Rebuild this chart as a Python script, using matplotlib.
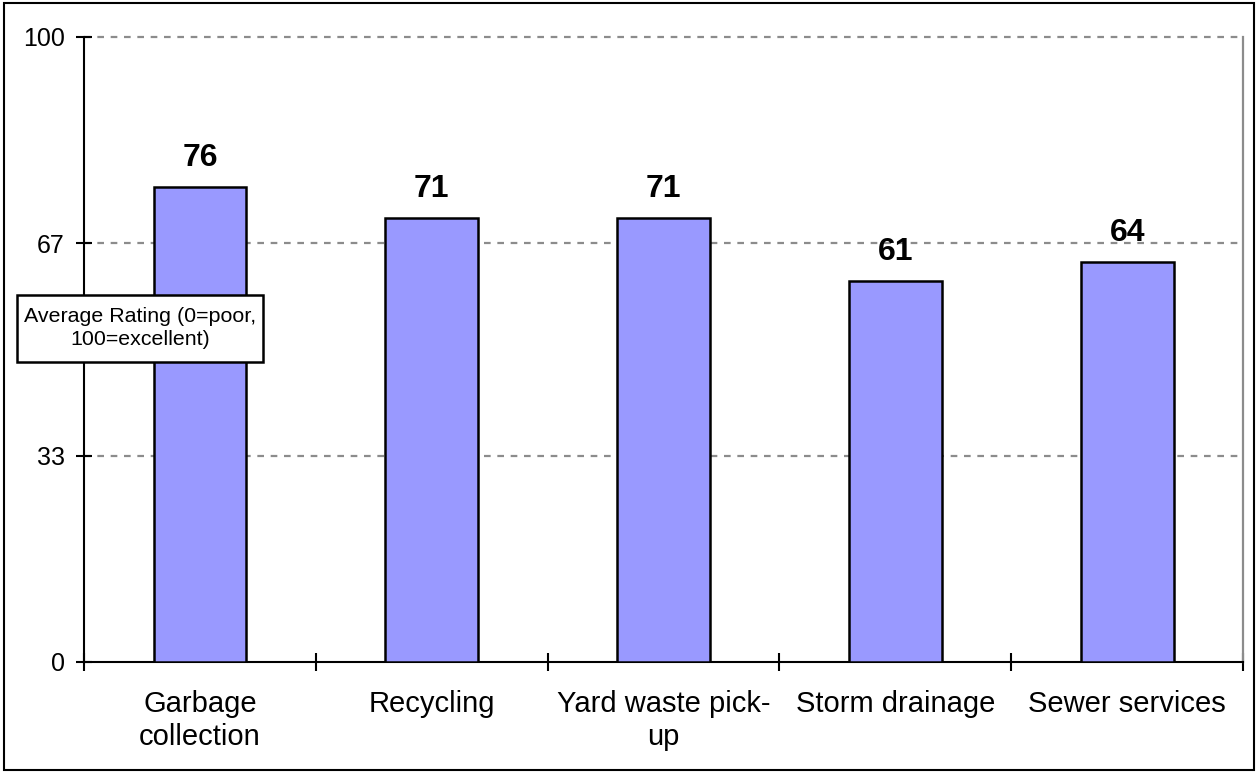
import numpy as np
import matplotlib
matplotlib.use("Agg")
import matplotlib.pyplot as plt
from matplotlib.patches import Rectangle

plt.rcParams['font.family'] = ['Liberation Sans', 'DejaVu Sans']

categories = ["Garbage\ncollection", "Recycling", "Yard waste pick-\nup",
              "Storm drainage", "Sewer services"]
ratings = [76, 71, 71, 61, 64]
yticks = [0, 33, 67, 100]

W, H = 1257, 772
fig = plt.figure(figsize=(W / 100, H / 100), dpi=100)
ax = fig.add_axes([0.0668, 0.1425, 0.9221, 0.8096])

x = np.arange(len(categories))
ax.bar(x, ratings, width=0.4, color='#9999FF', edgecolor='black',
       linewidth=1.8, zorder=3)

for xi, v in zip(x, ratings):
    ax.annotate(str(v), (xi, v), xytext=(0, 10), textcoords='offset points',
                ha='center', va='bottom', fontsize=23, fontweight='bold')

ax.set_xlim(-0.5, len(categories) - 0.5)
ax.set_ylim(0, 100)
ax.set_yticks(yticks)
ax.set_yticklabels([str(t) for t in yticks])
ax.tick_params(axis='y', direction='inout', length=12, width=1.5,
               labelsize=18, pad=8)

ax.set_xticks(x)
ax.set_xticklabels(categories, linespacing=1.25)
ax.set_xticks(np.arange(-0.5, len(categories), 1.0), minor=True)
ax.tick_params(axis='x', which='major', length=0, labelsize=21, pad=20)
ax.tick_params(axis='x', which='minor', direction='inout', length=13, width=1.5)

for t in yticks[1:]:
    ax.axhline(t, color='#8c8c8c', linewidth=1.6, linestyle=(0, (3, 3)),
               zorder=1, clip_on=False)

ax.spines['top'].set_visible(False)
ax.spines['right'].set_color('#8c8c8c')
ax.spines['right'].set_linewidth(1.6)
ax.spines['left'].set_linewidth(1.5)
ax.spines['bottom'].set_linewidth(1.5)

# rating label box
fig.patches.append(Rectangle((17 / W, 1 - 362 / H), 246 / W, 67 / H,
                             transform=fig.transFigure, facecolor='white',
                             edgecolor='black', linewidth=1.8, zorder=9))
fig.text(140 / W, 1 - 328 / H, "Average Rating (0=poor,\n100=excellent)",
         ha='center', va='center', multialignment='center', fontsize=15.4,
         linespacing=1.3, zorder=10)

# outer frame
fig.patches.append(Rectangle((4 / W, 2 / H), 1250 / W, 767 / H,
                             transform=fig.transFigure, fill=False,
                             edgecolor='black', linewidth=1.5))

fig.savefig("out.png", dpi=100)
